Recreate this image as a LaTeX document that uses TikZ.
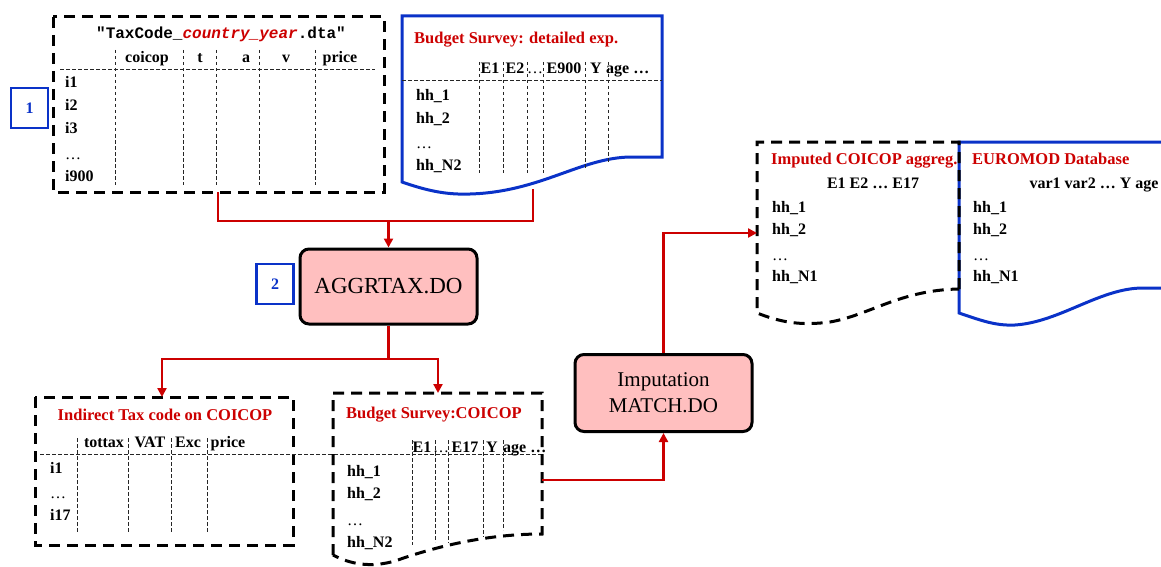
\documentclass[tikz,border=0pt]{standalone}
\usepackage{fontspec}
\setmainfont{Liberation Serif}
\setmonofont{Liberation Mono}
\usetikzlibrary{arrows.meta}
\definecolor{dred}{HTML}{CC0000}
\definecolor{dblue}{HTML}{0A32C8}
\definecolor{pinkf}{HTML}{FFBFBF}
\begin{document}
\begin{tikzpicture}[x=1pt,y=-1pt,
  thickdash/.style={draw=black, line width=3pt, dash pattern=on 11pt off 7pt},
  thindash/.style={draw=black!85, line width=0.9pt, dash pattern=on 3.5pt off 2.5pt},
  bluebd/.style={draw=dblue, line width=3pt},
  redln/.style={draw=dred, line width=2.7pt},
  redarr/.style={redln, -{Triangle[length=9pt,width=9pt]}},
  lbl/.style={font=\fontsize{16}{18}\selectfont\bfseries, inner sep=0pt, text height=11pt, text depth=3pt},
  dots/.style={lbl, font=\fontsize{16}{18}\selectfont},
  ttl/.style={lbl, text=dred, font=\fontsize{16.5}{18}\selectfont\bfseries},
  proc/.style={draw=black, line width=3pt, fill=pinkf, rounded corners=9pt, align=center, inner sep=0pt},
  numbox/.style={draw=dblue, line width=2.5pt, text=dblue, font=\fontsize{16}{18}\selectfont\bfseries, minimum width=37pt, minimum height=40pt, inner sep=0pt}
]
\useasboundingbox (0,0) rectangle (1161,567);
\clip (0,0) rectangle (1161,567);

% ---------- top-left table ----------
\draw[thickdash] (53,17) rectangle (384,192);
\node[lbl, font=\fontsize{16}{18}\selectfont\ttfamily\bfseries] (t1title) at (221,35) {"TaxCode\_\textcolor{dred}{\itshape country\_year}.dta"};
\foreach \x in {115,183,216,259,315} \draw[thindash] (\x,50) -- (\x,185);
\draw[thindash] (60,69) -- (375,69);
\node[lbl] (h1a) at (147,59) {coicop};
\node[lbl] (h1b) at (200,59) {t};
\node[lbl] (h1c) at (246,59) {a};
\node[lbl] (h1d) at (286,59) {v};
\node[lbl] (h1e) at (340,59) {price};
\node[lbl, anchor=west] (r1a) at (65,84) {i1};
\node[lbl, anchor=west] (r1b) at (65,107) {i2};
\node[lbl, anchor=west] (r1c) at (65,130) {i3};
\node[dots, anchor=west] (r1d) at (65,155) {\ldots};
\node[lbl, anchor=west] (r1e) at (65,177) {i900};
\node[numbox] (n1) at (29.5,108) {1};

% ---------- top blue document ----------
\draw[bluebd] (402,182) -- (402,16) -- (662,16) -- (662,157) -- (630,157)
  .. controls (580,158) and (540,192) .. (470,194)
  .. controls (445,195) and (425,190) .. (402,182) -- cycle;
\node[ttl, anchor=west] (bstitle) at (414,40) {Budget Survey: detailed exp.};
\draw[thindash] (402,80) -- (662,80);
\foreach \x/\y in {479/173,503/173,527/173,543/173,585/168,608/162} \draw[thindash] (\x,62) -- (\x,\y);
\node[lbl] (h2a) at (490,70) {E1};
\node[lbl] (h2b) at (515,70) {E2};
\node[dots] (h2c) at (535,70) {\ldots};
\node[lbl] (h2d) at (564,70) {E900};
\node[lbl] (h2e) at (596,70) {Y};
\node[lbl, anchor=west] (h2f) at (606,70) {age \ldots};
\node[lbl, anchor=west] (r2a) at (416,97) {hh\_1};
\node[lbl, anchor=west] (r2b) at (416,120) {hh\_2};
\node[dots, anchor=west] (r2c) at (416,144) {\ldots};
\node[lbl, anchor=west] (r2d) at (416,166) {hh\_N2};

% ---------- process boxes ----------
\node[proc, minimum width=177pt, minimum height=75pt, font=\fontsize{23}{27}\selectfont] (aggr) at (388.5,286.5) {AGGRTAX.DO};
\node[numbox] (n2) at (275,284) {2};
\node[proc, minimum width=177pt, minimum height=77pt, font=\fontsize{21}{26}\selectfont] (imp) at (663.5,393) {Imputation\\MATCH.DO};

% ---------- bottom-left table ----------
\draw[thickdash] (35,397) rectangle (293,545);
\node[ttl] (t3title) at (165,416) {Indirect Tax code on COICOP};
\foreach \x in {77,128,171,207} \draw[thindash] (\x,438) -- (\x,532);
\draw[thindash] (40,454) -- (542,454);
\node[lbl] (h3a) at (104,443) {tottax};
\node[lbl] (h3b) at (150,443) {VAT};
\node[lbl] (h3c) at (188,443) {Exc};
\node[lbl] (h3d) at (228,443) {price};
\node[lbl, anchor=west] (r3a) at (50,469) {i1};
\node[dots, anchor=west] (r3b) at (50,494) {\ldots};
\node[lbl, anchor=west] (r3c) at (50,516) {i17};

% ---------- bottom-middle document ----------
\draw[thickdash] (333,555) -- (333,393) -- (542,393) -- (542,534)
  .. controls (490,534) and (440,545) .. (395,561)
  .. controls (370,568) and (350,564) .. (333,555);
\node[ttl, anchor=west] (bsctitle) at (346,414) {Budget Survey:COICOP};
\foreach \x/\y in {412/545,435/542,448/543,483/537,503/530} \draw[thindash] (\x,440) -- (\x,\y);
\node[lbl] (h4a) at (422,448) {E1};
\node[dots] (h4b) at (441,448) {\ldots};
\node[lbl] (h4c) at (465,448) {E17};
\node[lbl] (h4d) at (492,448) {Y};
\node[lbl, anchor=west] (h4e) at (503,448) {age \ldots};
\node[lbl, anchor=west] (r4a) at (347,472) {hh\_1};
\node[lbl, anchor=west] (r4b) at (347,494) {hh\_2};
\node[dots, anchor=west] (r4c) at (347,521) {\ldots};
\node[lbl, anchor=west] (r4d) at (347,543) {hh\_N2};

% ---------- right documents ----------
\draw[bluebd] (1175,142) -- (959,142) -- (959,313)
  .. controls (980,320) and (995,326) .. (1015,325)
  .. controls (1060,322) and (1100,288) .. (1143,288) -- (1175,288);
\draw[thickdash] (959,289) -- (959,142) -- (757,142) -- (757,313)
  .. controls (780,322) and (800,326) .. (830,322)
  .. controls (870,315) and (900,290) .. (959,289);
\node[ttl, anchor=west] (imptitle) at (771,160) {Imputed COICOP aggreg.};
\node[lbl] (imphead) at (873,184) {E1 E2 \ldots\ E17};
\node[lbl, anchor=west] (r5a) at (772,208) {hh\_1};
\node[lbl, anchor=west] (r5b) at (772,230) {hh\_2};
\node[dots, anchor=west] (r5c) at (772,256) {\ldots};
\node[lbl, anchor=west] (r5d) at (772,277) {hh\_N1};
\node[ttl, anchor=west] (eutitle) at (972,160) {EUROMOD Database};
\node[lbl] (euhead) at (1094,184) {var1 var2 \ldots\ Y age};
\node[lbl, anchor=west] (r6a) at (973,208) {hh\_1};
\node[lbl, anchor=west] (r6b) at (973,230) {hh\_2};
\node[dots, anchor=west] (r6c) at (973,256) {\ldots};
\node[lbl, anchor=west] (r6d) at (973,277) {hh\_N1};

% ---------- connectors ----------
\coordinate (t1b) at (218,192);
\coordinate (bsb) at (533,189);
\coordinate (j1) at (388.5,221);
\coordinate (j2) at (388.5,359);
\coordinate (t3top) at (162,397);
\coordinate (bsctop) at (438,393);
\coordinate (bscr) at (542,480);
\coordinate (impin) at (757,233);
\draw[redln] (t1b) |- (bsb |- j1) -- (bsb);
\draw[redarr] (j1) -- (aggr.north);
\draw[redln] (aggr.south) -- (j2);
\draw[redarr] (j2) -| (t3top);
\draw[redarr] (j2) -| (bsctop);
\draw[redarr] (bscr) -| (imp.south);
\draw[redarr] (imp.north) |- (impin);
\end{tikzpicture}
\end{document}
